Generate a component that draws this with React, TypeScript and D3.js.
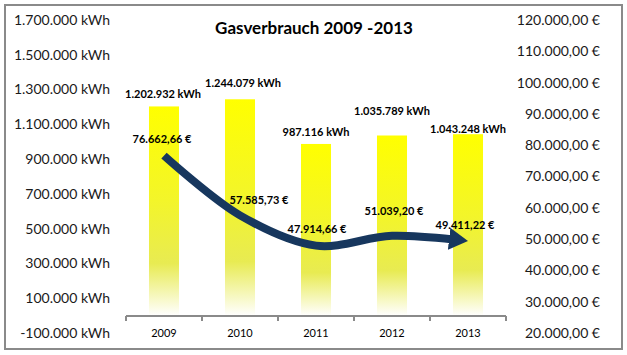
import React, { useEffect, useRef, useState } from "react";
import * as d3 from "d3";

const years = ["2009", "2010", "2011", "2012", "2013"];
const consumptionKwh = [1202932, 1244079, 987116, 1035789, 1043248];
const costEuro = [76662.66, 57585.73, 47914.66, 51039.2, 49411.22];
const kwhTicks = [-100000, 100000, 300000, 500000, 700000, 900000, 1100000, 1300000, 1500000, 1700000];
const euroTicks = [20000, 30000, 40000, 50000, 60000, 70000, 80000, 90000, 100000, 110000, 120000];
const title = "Gasverbrauch 2009 -2013";

// label nudges (layout only)
const barLabelNudge = [[-1, -12], [3, -16], [0, -12], [0, -24], [0, -5]];
const costLabelNudge = [[-2, -16], [19, -15], [1, -16], [2, -25], [-3, -16]];

const W = 627;
const H = 355;
const FONT = "Lato, 'Open Sans', sans-serif";

const de = d3.formatLocale({ decimal: ",", thousands: ".", grouping: [3], currency: ["", " €"], minus: "-" });
const fKwh = (v: number) => de.format(",.0f")(v) + " kWh";
const fEur = (v: number) => de.format(",.2f")(v) + " €";

export default function App() {
  const pathRef = useRef<SVGPathElement>(null);
  const [len, setLen] = useState<number | null>(null);

  const yL = d3.scaleLinear().domain([-100000, 1700000]).range([333, 20]);
  const yR = d3.scaleLinear().domain([20000, 120000]).range([333, 20]);
  const x = d3.scaleBand<string>().domain(years).range([126, 506]).paddingInner(0.605).paddingOuter(0.3025);
  const cx = (d: string) => (x(d) as number) + x.bandwidth() / 2;
  const axisY = Math.round(yL(0));

  const pts: [number, number][] = years.map((d, i) => [cx(d), yR(costEuro[i])]);
  const lineD = d3.line().curve(d3.curveCatmullRom.alpha(0.5))(pts) || "";

  useEffect(() => {
    if (pathRef.current) setLen(pathRef.current.getTotalLength());
  }, [lineD]);

  const step = x.step();
  const tickXs = d3.range(years.length + 1).map((i) => 126 + i * step);

  return (
    <svg width={W} height={H} style={{ position: "absolute", left: 0, top: 0, background: "#fff" }} fontFamily={FONT}>
      <defs>
        <linearGradient id="barGrad" x1="0" y1="0" x2="0" y2="1">
          <stop offset="0" stopColor="#FFFF00" />
          <stop offset="0.45" stopColor="#F3F52A" />
          <stop offset="0.75" stopColor="#E8EB52" />
          <stop offset="1" stopColor="#FFFFFF" />
        </linearGradient>
        <marker id="arrow" markerUnits="userSpaceOnUse" markerWidth="20" markerHeight="22" refX="19" refY="11" orient="auto">
          <path d="M0,0 L19,11 L0,22 Z" fill="#17375E" />
        </marker>
      </defs>
      <rect x={0} y={0} width={W} height={H} fill="#fff" />
      <rect x={5} y={5} width={617} height={344} fill="#fff" stroke="#8a8a8a" strokeWidth={2} />

      <text x={314} y={28} textAnchor="middle" dy="0.35em" fontSize={17} fontWeight="bold" fill="#000">
        {title}
      </text>

      {kwhTicks.map((t) => (
        <text key={t} x={110} y={yL(t)} dy="0.35em" textAnchor="end" fontSize={14} fill="#1a1a1a">
          {fKwh(t)}
        </text>
      ))}
      {euroTicks.map((t) => (
        <text key={t} x={600} y={yR(t)} dy="0.35em" textAnchor="end" fontSize={14} fill="#1a1a1a">
          {fEur(t)}
        </text>
      ))}

      {years.map((d, i) => (
        <rect
          key={d}
          x={x(d)}
          y={yL(consumptionKwh[i])}
          width={x.bandwidth()}
          height={yL(0) - yL(consumptionKwh[i])}
          fill="url(#barGrad)"
        />
      ))}

      <line x1={126} x2={506} y1={axisY} y2={axisY} stroke="#8a8a8a" strokeWidth={2} />
      {tickXs.map((tx, i) => (
        <line key={i} x1={tx} x2={tx} y1={axisY} y2={axisY + 5} stroke="#8a8a8a" strokeWidth={2} />
      ))}
      {years.map((d) => (
        <text key={d} x={cx(d)} y={333} dy="0.35em" textAnchor="middle" fontSize={11} fill="#000">
          {d}
        </text>
      ))}

      {years.map((d, i) => (
        <text
          key={d}
          x={cx(d) + barLabelNudge[i][0]}
          y={yL(consumptionKwh[i]) + barLabelNudge[i][1]}
          dy="0.35em"
          textAnchor="middle"
          fontSize={11}
          fontWeight="bold"
          fill="#000"
        >
          {fKwh(consumptionKwh[i])}
        </text>
      ))}

      <path
        ref={pathRef}
        d={lineD}
        fill="none"
        stroke="#17375E"
        strokeWidth={8}
        strokeDasharray={len ? `${len - 15} ${len}` : undefined}
        markerEnd="url(#arrow)"
      />

      {years.map((d, i) => (
        <text
          key={d}
          x={pts[i][0] + costLabelNudge[i][0]}
          y={pts[i][1] + costLabelNudge[i][1]}
          dy="0.35em"
          textAnchor="middle"
          fontSize={11}
          fontWeight="bold"
          fill="#000"
        >
          {fEur(costEuro[i])}
        </text>
      ))}
    </svg>
  );
}
